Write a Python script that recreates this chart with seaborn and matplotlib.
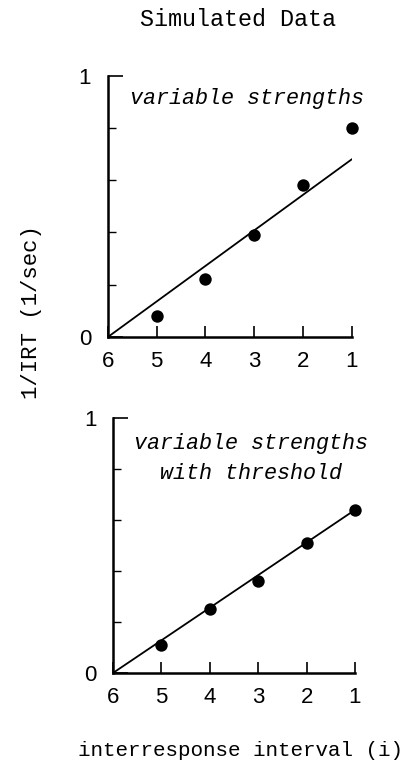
import matplotlib
matplotlib.use("Agg")
import matplotlib.pyplot as plt
import seaborn as sns
import pandas as pd
from matplotlib.ticker import FixedLocator

sns.set_theme(style="ticks")
plt.rcParams["font.family"] = ["Liberation Sans", "DejaVu Sans"]

# interresponse interval index (plotted right-to-left, 6 .. 1)
intervals = [5, 4, 3, 2, 1]
# simulated 1/IRT values (1/sec)
rate_variable = [0.08, 0.22, 0.39, 0.58, 0.80]
rate_threshold = [0.11, 0.25, 0.36, 0.51, 0.64]
# straight-line fits, from interval 6 (zero) to interval 1
fit_x = [6, 1]
fit_variable = [0.0, 0.68]
fit_threshold = [0.0, 0.64]

x_ticks = [6, 5, 4, 3, 2, 1]
panel_labels = ["variable strengths", "variable strengths\nwith threshold"]

fig = plt.figure(figsize=(4.04, 7.63), dpi=100)
ax_top = fig.add_axes([0.267, 0.5583, 0.604, 0.3427])
ax_bot = fig.add_axes([0.2797, 0.118, 0.599, 0.334])

mono = "Liberation Mono"

panels = [
    (ax_top, rate_variable, fit_variable, panel_labels[0], 0.912),
    (ax_bot, rate_threshold, fit_threshold, panel_labels[1], 0.842),
]

for ax, rates, fit, label, ty in panels:
    pts = pd.DataFrame({"interval": intervals, "rate": rates})
    fit_df = pd.DataFrame({"interval": fit_x, "rate": fit})
    sns.lineplot(data=fit_df, x="interval", y="rate", ax=ax, color="black",
                 linewidth=1.3, sort=False)
    sns.scatterplot(data=pts, x="interval", y="rate", ax=ax, color="black",
                    s=80, edgecolor="black", linewidth=0, zorder=3, clip_on=False)
    ax.set_xlim(6, 1)
    ax.set_ylim(0, 1)
    ax.set_xticks(x_ticks)
    ax.set_xticklabels([str(t) for t in x_ticks])
    ax.set_yticks([0, 1])
    ax.set_yticklabels(["0", "1"])
    ax.yaxis.set_minor_locator(FixedLocator([0.2, 0.4, 0.6, 0.8]))
    ax.tick_params(axis="x", direction="in", length=8, width=1.2,
                   labelsize=16, pad=10, colors="black")
    ax.tick_params(axis="y", which="major", direction="in", length=11,
                   width=1.2, labelsize=16, pad=12, colors="black")
    ax.tick_params(axis="y", which="minor", direction="in", length=6,
                   width=1.0, colors="black")
    ax.set_xlabel("")
    ax.set_ylabel("")
    for side in ["top", "right"]:
        ax.spines[side].set_visible(False)
    for side in ["left", "bottom"]:
        ax.spines[side].set_linewidth(1.8)
        ax.spines[side].set_color("black")
    ax.text(0.57, ty, label, transform=ax.transAxes, ha="center", va="center",
            family=mono, style="italic", fontsize=15.7, linespacing=1.55,
            color="black")

fig.text(0.59, 0.974, "Simulated Data", ha="center", va="center",
         family=mono, fontsize=16.8, color="black")
fig.text(0.595, 0.017, "interresponse interval (i)", ha="center", va="center",
         family=mono, fontsize=15, color="black")
fig.text(0.077, 0.591, "1/IRT (1/sec)", ha="center", va="center",
         rotation=90, family=mono, fontsize=16, color="black")

fig.savefig("out.png", dpi=100, facecolor="white")
